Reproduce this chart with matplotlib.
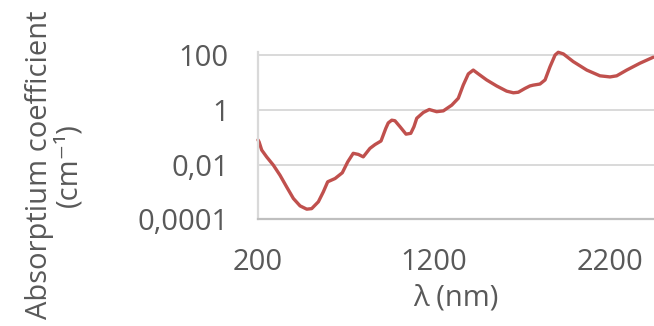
import matplotlib
matplotlib.use("Agg")
import matplotlib.pyplot as plt
import numpy as np
from matplotlib.ticker import FixedLocator, FuncFormatter

# wavelength (nm) and log10 of absorption coefficient (cm-1)
wavelength = [200, 206, 221, 249, 287, 325, 363, 401, 439, 477, 505, 543, 571,
              596, 638, 679, 710, 741, 770, 798, 836, 865, 899, 926, 940, 960,
              978, 1007, 1041, 1068, 1086, 1102, 1139, 1173, 1215, 1253, 1301,
              1338, 1366, 1395, 1423, 1452, 1499, 1556, 1613, 1651, 1679, 1717,
              1745, 1764, 1802, 1831, 1859, 1888, 1906, 1935, 1991, 2068, 2143,
              2200, 2238, 2295, 2370, 2446]
log_alpha = [-1.10, -1.17, -1.47, -1.72, -2.02, -2.39, -2.82, -3.24, -3.51,
             -3.63, -3.61, -3.36, -3.00, -2.63, -2.51, -2.30, -1.90, -1.59,
             -1.63, -1.72, -1.41, -1.27, -1.14, -0.68, -0.48, -0.38, -0.40,
             -0.62, -0.89, -0.86, -0.62, -0.31, -0.10, 0.01, -0.07, -0.04,
             0.17, 0.42, 0.90, 1.31, 1.45, 1.31, 1.09, 0.87, 0.68, 0.62, 0.64,
             0.78, 0.87, 0.90, 0.94, 1.09, 1.57, 2.00, 2.10, 2.04, 1.76, 1.45,
             1.24, 1.20, 1.24, 1.45, 1.70, 1.92]
alpha = 10 ** np.array(log_alpha)

x_ticks = [200, 1200, 2200]
y_ticks = [1e-4, 1e-2, 1, 100]
y_labels = {1e-4: "0,0001", 1e-2: "0,01", 1: "1", 100: "100"}

plt.rcParams['font.family'] = ['Open Sans', 'DejaVu Sans']
txt = '#595959'
fs = 21

fig = plt.figure(figsize=(6.54, 3.26), dpi=100)
ax = fig.add_axes([258 / 654, 1 - 219.3 / 326, 1 - 258 / 654, (219.3 - 52) / 326])

ax.plot(wavelength, alpha, color='#C0504D', lw=2.4, solid_capstyle='round',
        solid_joinstyle='round', clip_on=False)

ax.set_yscale('log')
ax.set_xlim(200, 2450)
ax.set_ylim(1e-4, 10 ** 2.11)
ax.yaxis.set_major_locator(FixedLocator(y_ticks))
ax.yaxis.set_minor_locator(FixedLocator([]))
ax.yaxis.set_major_formatter(FuncFormatter(lambda v, p: y_labels.get(v, "")))
ax.xaxis.set_major_locator(FixedLocator(x_ticks))

ax.grid(axis='y', color='#D9D9D9', lw=1.4)
ax.set_axisbelow(True)
for s in ['top', 'right']:
    ax.spines[s].set_visible(False)
ax.spines['left'].set_color('#D9D9D9')
ax.spines['left'].set_linewidth(1.6)
ax.spines['bottom'].set_color('#BFBFBF')
ax.spines['bottom'].set_linewidth(1.6)

ax.tick_params(length=0, labelsize=fs, colors=txt)
ax.tick_params(axis='y', pad=21)
ax.tick_params(axis='x', pad=21)

ax.set_xlabel('λ (nm)', fontsize=fs, color=txt, labelpad=4)
fig.text(0.083, 0.494, 'Absorptium coefficient\n(cm⁻¹)', rotation=90,
         ha='center', va='center', fontsize=fs, color=txt, linespacing=1.05,
         multialignment='center')

fig.savefig('out.png', dpi=100)
